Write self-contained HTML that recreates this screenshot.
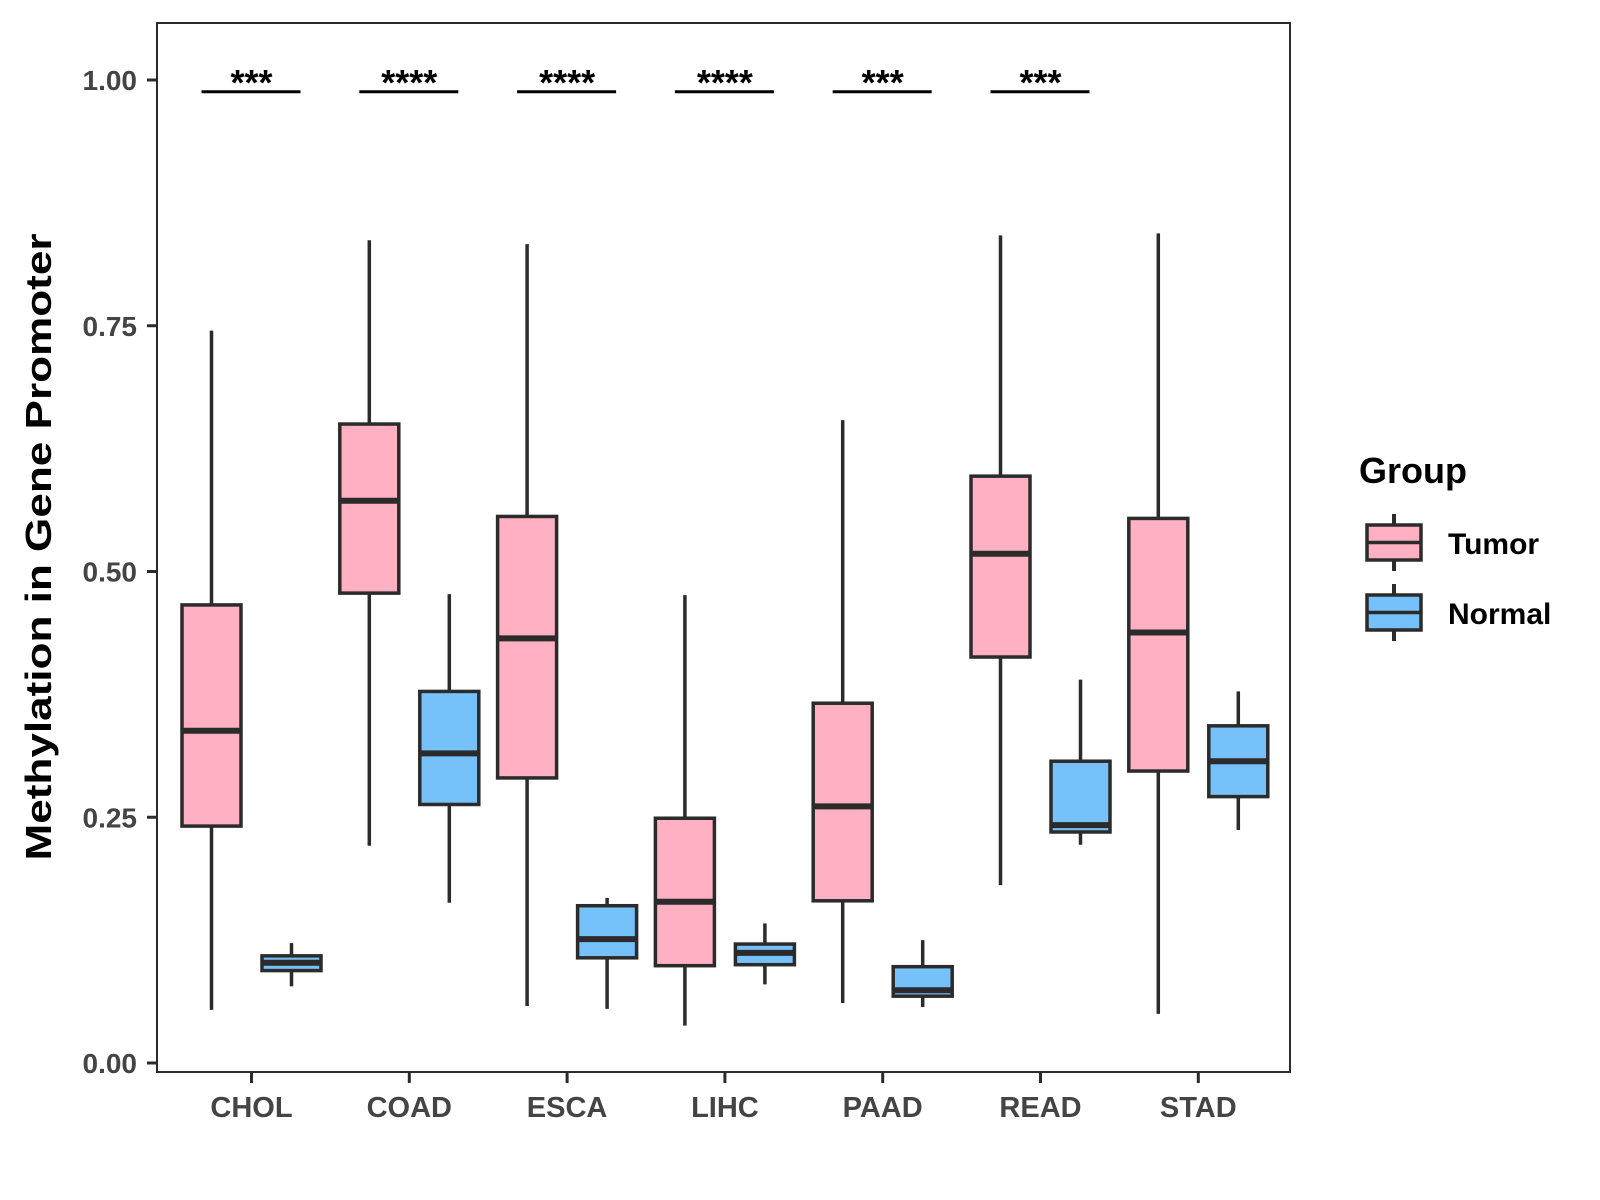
<!DOCTYPE html>
<html><head><meta charset="utf-8"><style>body{margin:0;background:#fff}svg{display:block}</style></head>
<body>
<svg id="chart" width="1600" height="1200" xmlns="http://www.w3.org/2000/svg" font-family="Liberation Sans, sans-serif">
<rect x="157" y="23" width="1133" height="1049" fill="#fff" stroke="#2b2b2b" stroke-width="2"/>
<g id="axes"></g>
<g id="boxes"></g>
<g id="sig"></g>
<text x="51" y="547" font-size="36" font-weight="bold" fill="#000" text-anchor="middle" textLength="627" lengthAdjust="spacingAndGlyphs" transform="rotate(-90 51 547)">Methylation in Gene Promoter</text>
<g>
<text x="1359" y="483" font-size="36" font-weight="bold" fill="#000">Group</text>
<g>
<line x1="1394" y1="514" x2="1394" y2="571" stroke="#2b2b2b" stroke-width="4"/>
<rect x="1367" y="525" width="54" height="35" fill="#FFB0C2" stroke="#2b2b2b" stroke-width="3.5"/>
<line x1="1367" y1="542.5" x2="1421" y2="542.5" stroke="#2b2b2b" stroke-width="3.5"/>
<text x="1448" y="554" font-size="30" font-weight="bold" fill="#000">Tumor</text>
</g>
<g>
<line x1="1394" y1="584" x2="1394" y2="641" stroke="#2b2b2b" stroke-width="4"/>
<rect x="1367" y="595" width="54" height="35" fill="#76C1F9" stroke="#2b2b2b" stroke-width="3.5"/>
<line x1="1367" y1="612.5" x2="1421" y2="612.5" stroke="#2b2b2b" stroke-width="3.5"/>
<text x="1448" y="624" font-size="30" font-weight="bold" fill="#000">Normal</text>
</g>
</g>
</svg>
<script>
const categories = ["CHOL","COAD","ESCA","LIHC","PAAD","READ","STAD"];
const tumorMin = [0.054,0.221,0.058,0.038,0.061,0.181,0.050];
const tumorQ1  = [0.241,0.478,0.290,0.099,0.165,0.413,0.297];
const tumorMed = [0.338,0.572,0.432,0.164,0.261,0.518,0.438];
const tumorQ3  = [0.466,0.650,0.556,0.249,0.366,0.597,0.554];
const tumorMax = [0.745,0.837,0.833,0.476,0.654,0.842,0.844];
const normalMin = [0.078,0.163,0.055,0.080,0.057,0.222,0.237];
const normalQ1  = [0.094,0.263,0.107,0.100,0.068,0.235,0.271];
const normalMed = [0.102,0.315,0.126,0.112,0.074,0.242,0.307];
const normalQ3  = [0.109,0.378,0.160,0.121,0.098,0.307,0.343];
const normalMax = [0.122,0.477,0.168,0.142,0.125,0.390,0.378];
const sigLabels = ["***","****","****","****","***","***",""];
const sigLevel = 0.988;
const yTicks = [0,0.25,0.5,0.75,1.0];
const yTickLabels = ["0.00","0.25","0.50","0.75","1.00"];

const NS="http://www.w3.org/2000/svg";
const yScale = v => 1063 - v*983;
const xScale = i => 251.5 + i*157.8;
function mk(tag, attrs, parent){const e=document.createElementNS(NS,tag);for(const k in attrs)e.setAttribute(k,attrs[k]);parent.appendChild(e);return e;}
const axes=document.getElementById('axes'), boxes=document.getElementById('boxes'), sig=document.getElementById('sig');
yTicks.forEach((t,i)=>{
  const y=yScale(t);
  const l=mk('line',{x1:147,x2:157,y1:y,y2:y,stroke:'#2b2b2b','stroke-width':3},axes);
  
  
  const tx=mk('text',{x:137,y:y+10,'font-size':28,'font-weight':'bold',fill:'#444','text-anchor':'end'},axes);
  tx.textContent=yTickLabels[i];
  
  
});
categories.forEach((c,i)=>{
  const x=xScale(i);
  const l=mk('line',{x1:x,x2:x,y1:1072,y2:1083,stroke:'#2b2b2b','stroke-width':3},axes);
  
  
  const tx=mk('text',{x:x,y:1117,'font-size':29,'font-weight':'bold',fill:'#444','text-anchor':'middle'},axes);
  tx.textContent=c;
  
  
});
function drawBox(cx,mn,q1,md,q3,mx,fill,name){
  const g=mk('g',{},boxes);
  
  
  mk('line',{x1:cx,x2:cx,y1:yScale(mx),y2:yScale(mn),stroke:'#2b2b2b','stroke-width':3.5},g);
  mk('rect',{x:cx-29.5,y:yScale(q3),width:59,height:yScale(q1)-yScale(q3),fill:fill,stroke:'#2b2b2b','stroke-width':3.5},g);
  mk('line',{x1:cx-29.5,x2:cx+29.5,y1:yScale(md),y2:yScale(md),stroke:'#2b2b2b','stroke-width':6},g);
}
categories.forEach((c,i)=>{
  const x=xScale(i);
  drawBox(x-40,tumorMin[i],tumorQ1[i],tumorMed[i],tumorQ3[i],tumorMax[i],'#FFB0C2','box-tumor-'+c.toLowerCase());
  drawBox(x+40,normalMin[i],normalQ1[i],normalMed[i],normalQ3[i],normalMax[i],'#76C1F9','box-normal-'+c.toLowerCase());
  if(sigLabels[i]){
    const y=yScale(sigLevel);
    const l=mk('line',{x1:x-50,x2:x+49,y1:y,y2:y,stroke:'#000','stroke-width':3},sig);
    
    
    const t=mk('text',{x:x,y:y+3,'font-size':36,'font-weight':'bold',fill:'#000','text-anchor':'middle'},sig);
    t.textContent=sigLabels[i];
    
    
  }
});
</script>
</body></html>
